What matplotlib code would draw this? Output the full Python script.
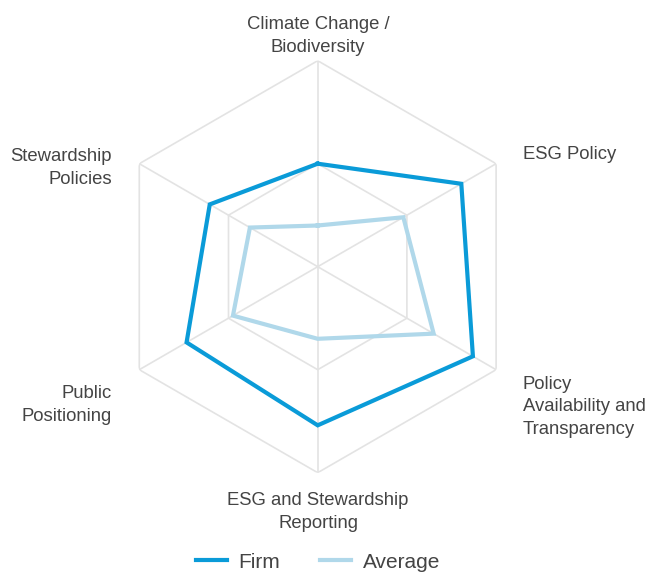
import numpy as np
import matplotlib
matplotlib.use("Agg")
import matplotlib.pyplot as plt
from matplotlib.lines import Line2D

categories = ["Climate Change /\nBiodiversity", "ESG Policy",
              "Policy\nAvailability and\nTransparency",
              "ESG and Stewardship\nReporting", "Public\nPositioning",
              "Stewardship\nPolicies"]
firm = [50, 80.5, 87, 77, 73.5, 60.5]
average = [20, 48, 65, 35, 47.5, 38]
grid_levels = [50, 100]
series_names = ["Firm", "Average"]

W, H = 648, 574
fig = plt.figure(figsize=(W / 100, H / 100), dpi=100)
plt.rcParams['font.family'] = ['Liberation Sans', 'DejaVu Sans']

cx, cy, R = 317.7, 266.7, 206.0
ax = fig.add_axes([(cx - R) / W, (H - cy - R) / H, 2 * R / W, 2 * R / H], projection='polar')
ax.set_theta_zero_location('N')
ax.set_theta_direction(-1)
ax.set_ylim(0, 100)
ax.axis('off')

n = len(categories)
angles = np.arange(n) * 2 * np.pi / n
closed = np.concatenate([angles, angles[:1]])

grid_color = '#e3e3e3'
for lvl in grid_levels:
    ax.plot(closed, [lvl] * (n + 1), color=grid_color, lw=1.2, zorder=1)
for a in angles:
    ax.plot([a, a], [0, 100], color=grid_color, lw=1.2, zorder=1)

firm_c = '#0a9bd8'
avg_c = '#b0d8ea'
ax.plot(closed, average + average[:1], color=avg_c, lw=3, zorder=3, solid_joinstyle='miter')
ax.plot(closed, firm + firm[:1], color=firm_c, lw=3, zorder=4, solid_joinstyle='miter')

tc = '#444444'
fs = 13.3
def ftext(x, y, s, ha):
    # y is the baseline of the last line of the label
    fig.text(x / W, 1 - y / H, s, ha=ha, va='baseline', fontsize=fs, color=tc, linespacing=1.42)

ftext(318, 51.7, categories[0], 'center')
ftext(523, 159.3, categories[1], 'left')
ftext(523, 433.5, categories[2], 'left')
ftext(318, 527.5, categories[3], 'center')
ftext(112, 420.7, categories[4], 'right')
ftext(112, 183.5, categories[5], 'right')

handles = [Line2D([], [], color=firm_c, lw=3), Line2D([], [], color=avg_c, lw=3)]
leg = fig.legend(handles, series_names, loc='center', bbox_to_anchor=(318 / W, 1 - 562 / H),
                 ncol=2, frameon=False, fontsize=15, handlelength=1.5, columnspacing=1.9,
                 handletextpad=0.55)
for t in leg.get_texts():
    t.set_color(tc)

fig.savefig('out.png', dpi=100)
